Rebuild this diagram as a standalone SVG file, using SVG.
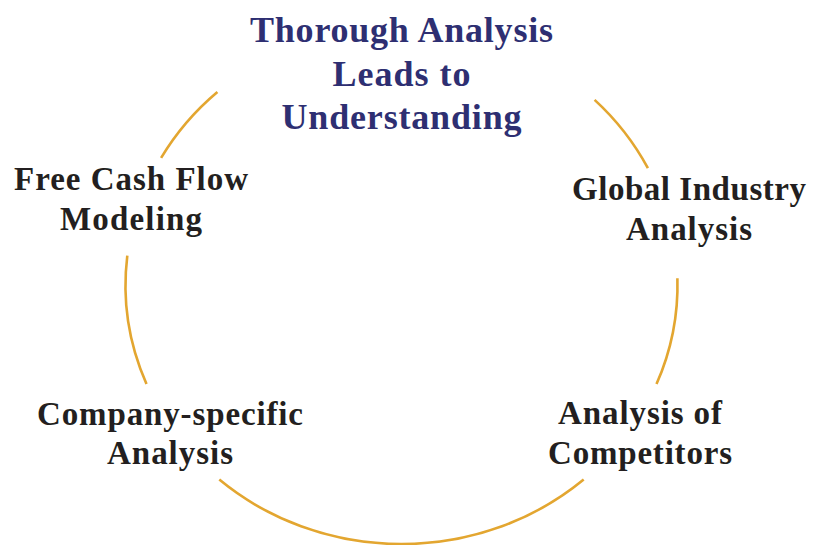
<svg xmlns="http://www.w3.org/2000/svg" width="824" height="545" viewBox="0 0 824 545">
<style>
.arc{fill:none;stroke:#E3A630;stroke-width:2.6;stroke-linecap:butt}
.lbl{font-family:"Liberation Serif","Times New Roman",serif;font-weight:bold;font-size:33px;fill:#231F20;text-anchor:middle}
.ttl{font-family:"Liberation Serif","Times New Roman",serif;font-weight:bold;font-size:36px;fill:#2E2F72;text-anchor:middle}
</style>
<rect width="824" height="545" fill="#ffffff"/>
<g id="connectors">
<path class="arc" d="M217.4,92 A276,259 0 0 0 161.1,157.9"/>
<path class="arc" d="M127.3,255.7 A276,259 0 0 0 146.5,384.1"/>
<path class="arc" d="M219.3,479.6 A276,259 0 0 0 583.7,479.6"/>
<path class="arc" d="M594.6,99.9 A276,259 0 0 1 647.9,168.2"/>
<path class="arc" d="M677.4,278.2 A276,259 0 0 1 656.5,384.1"/>
</g>
<g id="title">
<text class="ttl" x="401.5" y="42" textLength="303" lengthAdjust="spacing">Thorough Analysis</text>
<text class="ttl" x="401.5" y="86" textLength="138" lengthAdjust="spacing">Leads to</text>
<text class="ttl" x="401.5" y="129" textLength="240" lengthAdjust="spacing">Understanding</text>
</g>
<g id="node-fcf">
<text class="lbl" x="131" y="190" textLength="234" lengthAdjust="spacing">Free Cash Flow</text>
<text class="lbl" x="131" y="230" textLength="142" lengthAdjust="spacing">Modeling</text>
</g>
<g id="node-global">
<text class="lbl" x="689" y="200" textLength="234" lengthAdjust="spacing">Global Industry</text>
<text class="lbl" x="689" y="240" textLength="126" lengthAdjust="spacing">Analysis</text>
</g>
<g id="node-company">
<text class="lbl" x="170" y="425" textLength="266" lengthAdjust="spacing">Company-specific</text>
<text class="lbl" x="170" y="464" textLength="126" lengthAdjust="spacing">Analysis</text>
</g>
<g id="node-competitors">
<text class="lbl" x="640" y="424" textLength="164" lengthAdjust="spacing">Analysis of</text>
<text class="lbl" x="640" y="464" textLength="184" lengthAdjust="spacing">Competitors</text>
</g>
</svg>
